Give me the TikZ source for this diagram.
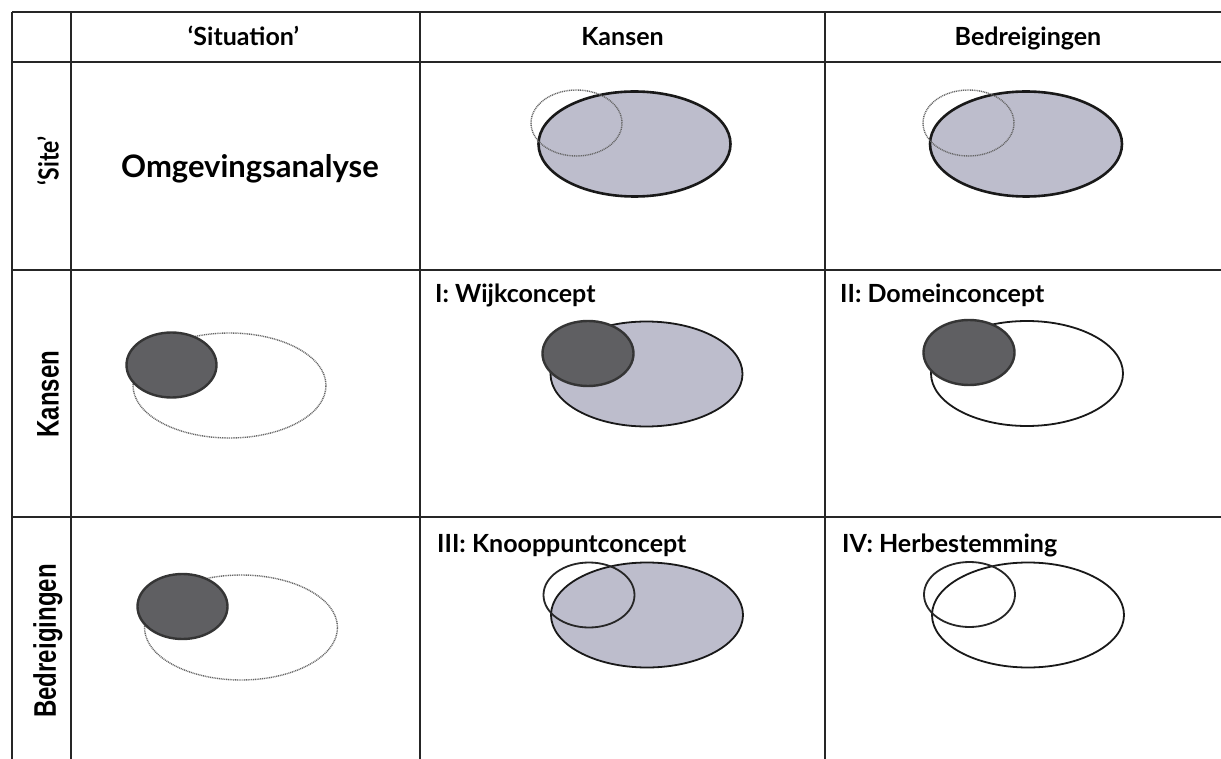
\documentclass[tikz,border=0pt]{standalone}
\usepackage{fontspec}
\setmainfont{Lato}
\newfontfamily\arialfont{Liberation Sans}
\usetikzlibrary{shapes.geometric}
\definecolor{lav}{HTML}{BDBDCC}
\definecolor{darkfill}{HTML}{5F5F62}
\definecolor{darkedge}{HTML}{353535}
\definecolor{dotgray}{HTML}{666666}
\tikzset{
  tbl/.style={line width=1.4pt, draw=black!85},
  hdr/.style={font=\fontsize{25}{28}\selectfont\bfseries, anchor=base, inner sep=0pt},
  ttl/.style={font=\fontsize{25}{28}\selectfont\bfseries, anchor=base west, inner sep=0pt},
  rowlab/.style={font=\arialfont\fontsize{24}{27}\selectfont\bfseries, rotate=90, yscale=1.3, inner sep=0pt},
  bigfillthick/.style={fill=lav, draw=black!90, line width=2.6pt},
  bigfill/.style={fill=lav, draw=black!90, line width=1.8pt},
  bigopen/.style={draw=black!90, line width=1.8pt},
  dark/.style={fill=darkfill, draw=darkedge, line width=2.4pt},
  dotted ell/.style={draw=dotgray, line width=1.4pt, dash pattern=on 1pt off 0.8pt},
  smallopen/.style={draw=black!85, line width=1.8pt}
}
\begin{document}
\begin{tikzpicture}[x=1pt,y=-1pt]
\useasboundingbox[fill=white] (0,0) rectangle (1221,759);
% grid
\draw[tbl] (12,12) -- (1221,12);
\draw[tbl] (12,62) -- (1221,62);
\draw[tbl] (12,270) -- (1221,270);
\draw[tbl] (12,517) -- (1221,517);
\draw[tbl] (12,12) -- (12,759);
\draw[tbl] (71,12) -- (71,759);
\draw[tbl] (420,12) -- (420,759);
\draw[tbl] (825,12) -- (825,759);
% headers
\node[hdr] (hsit) at (243.5,46) {‘Situation’};
\node[hdr] (hkan) at (622.5,46) {Kansen};
\node[hdr] (hbed) at (1028,46) {Bedreigingen};
% row labels
\node[font=\fontsize{23}{26}\selectfont\bfseries, rotate=90, yscale=1.2, inner sep=0pt] (rsite) at (48,161) {‘Site’};
\node[rowlab] (rkan) at (48,394) {Kansen};
\node[rowlab] (rbed) at (48,641) {Bedreigingen};
% row 1
\node[font=\fontsize{31}{34}\selectfont\bfseries, anchor=base, inner sep=0pt] (omg) at (250,178) {Omgevingsanalyse};
\draw[bigfillthick] (634.5,144) ellipse [x radius=96pt, y radius=52.5pt];
\draw[dotted ell] (576.5,123) ellipse [x radius=45.5pt, y radius=33pt];
\draw[bigfillthick] (1026,144) ellipse [x radius=96pt, y radius=52.5pt];
\draw[dotted ell] (968.5,123) ellipse [x radius=45.5pt, y radius=33pt];
% row 2
\draw[dotted ell] (229.5,385.5) ellipse [x radius=96.5pt, y radius=52.5pt];
\draw[dark] (171.5,365) ellipse [x radius=45pt, y radius=32.5pt];
\node[ttl] (t1) at (435,303) {I: Wijkconcept};
\draw[bigfill] (646.5,374) ellipse [x radius=96pt, y radius=52.5pt];
\draw[dark] (588,353.5) ellipse [x radius=45.5pt, y radius=32.5pt];
\node[ttl] (t2) at (840,303) {II: Domeinconcept};
\draw[bigopen] (1027,373.5) ellipse [x radius=96pt, y radius=52.5pt];
\draw[dark] (969,352.5) ellipse [x radius=45.5pt, y radius=32.5pt];
% row 3
\draw[dotted ell] (241,627.5) ellipse [x radius=96.5pt, y radius=52.5pt];
\draw[dark] (182.5,606.5) ellipse [x radius=45pt, y radius=32.5pt];
\node[ttl] (t3) at (437,552) {III: Knooppuntconcept};
\draw[bigfill] (647,615) ellipse [x radius=96pt, y radius=52.5pt];
\draw[smallopen] (589,595) ellipse [x radius=45.5pt, y radius=32.5pt];
\node[ttl] (t4) at (842,552) {IV: Herbestemming};
\draw[bigopen] (1028,615) ellipse [x radius=96pt, y radius=52.5pt];
\draw[smallopen] (969.5,594.5) ellipse [x radius=45.5pt, y radius=32.5pt];
\end{tikzpicture}
\end{document}
